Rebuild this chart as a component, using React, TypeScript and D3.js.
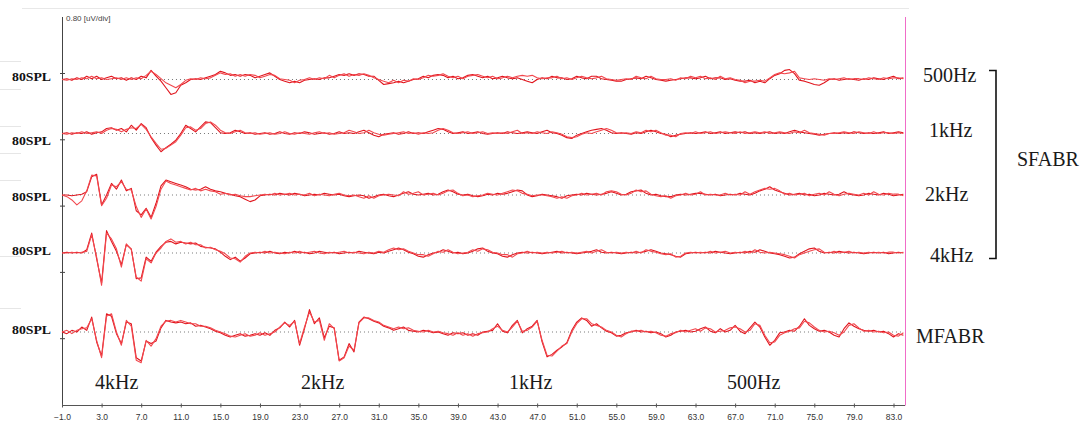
import React, { useEffect, useRef } from 'react'
import * as d3 from 'd3'

// sweep: first sample at -1.0 ms, one sample every 0.5 ms (171 samples, up to 84 ms)
const sweepStart = -1
const sweepStep = 0.5
const uvPerDiv = 0.8

const xTickValues = [-1, 3, 7, 11, 15, 19, 23, 27, 31, 35, 39, 43, 47, 51, 55, 59, 63, 67, 71, 75, 79, 83]

const rightLabels = ['500Hz', '1kHz', '2kHz', '4kHz', 'MFABR']
const bottomLabels = ['4kHz', '2kHz', '1kHz', '500Hz']
const levelLabel = '80SPL'
const groupLabel = 'SFABR'
const scaleLabel = '0.80 [uV/div]'

// amplitudes in uV, two repeated runs per stimulus
const sf500A = [
  0, .01, -.01, .02, 0, .04, .01, .04, 0, .02,
  .04, .01, .02, -.01, .02, 0, .04, .02, .11, .04,
  -.02, -.1, -.18, -.16, -.07, -.04, 0, .01, 0, .02,
  .04, .06, .1, .08, .05, .06, .04, .06, .05, .02,
  .04, .06, .08, .04, 0, -.02, -.04, -.02, -.04, -.01,
  0, .01, 0, .02, .02, .04, .06, .05, .07, .05,
  .07, .06, .04, .04, -.01, -.06, -.05, -.04, -.02, -.04,
  -.02, 0, .01, .04, .02, .05, .06, .05, .02, .04,
  .01, .02, .05, .06, .04, .02, .04, .01, .02, .04,
  .02, .01, .02, 0, -.02, -.04, 0, .02, .01, .04,
  .02, .02, 0, .01, .04, .02, .01, .04, .04, .01,
  0, -.01, -.02, -.02, 0, .01, .02, .01, .04, .02,
  0, -.01, -.02, -.01, 0, .01, .02, .02, .01, .02,
  .04, .01, .02, .02, 0, .01, -.01, -.02, -.02, -.01,
  -.04, -.02, -.04, .01, .05, .07, .11, .12, .07, -.01,
  -.02, -.04, -.06, -.07, -.04, 0, .01, -.01, 0, .01,
  0, -.01, .01, 0, .02, .01, 0, .02, .04, .01,
  .02
]
const sf500B = [
  0, -.01, .01, 0, .02, .01, .04, .01, .02, 0,
  .01, .02, 0, .02, 0, .02, .01, .05, .1, .06,
  .01, -.04, -.07, -.1, -.06, -.01, .01, 0, .02, .01,
  .02, .05, .08, .06, .07, .04, .06, .04, .06, .05,
  .02, .04, .06, .05, .01, 0, -.01, -.04, -.01, 0,
  .02, 0, .02, .01, .05, .02, .05, .07, .04, .06,
  .05, .07, .05, .02, 0, -.02, -.04, -.01, -.04, -.01,
  -.02, .01, 0, .02, .05, .04, .05, .07, .04, .02,
  .04, .01, .04, .05, .06, .04, .02, .04, .01, .02,
  .04, .02, .04, .05, .04, .05, .02, .01, .02, .02,
  .04, .01, .02, 0, .02, .04, .02, .01, .02, .04,
  .01, 0, -.01, 0, .01, 0, .04, .02, .01, .04,
  .01, 0, 0, .01, -.01, .02, .01, .04, .02, .04,
  .01, .02, 0, .04, .01, .02, 0, -.01, -.04, -.02,
  -.02, -.01, -.02, .02, .06, .08, .07, .08, .1, .02,
  .01, 0, .01, 0, -.01, .01, 0, .01, .02, 0,
  .01, .01, 0, .02, .01, 0, .02, .01, .02, .02,
  .01
]
const sf1kA = [
  0, .01, -.01, .01, 0, .02, -.01, .01, .02, .06,
  .07, .04, .06, .02, .1, .04, .12, .07, -.05, -.14,
  -.22, -.17, -.13, -.08, 0, .1, .06, .02, .08, .14,
  .13, .07, .01, 0, .01, .04, .02, 0, .01, -.01,
  0, .01, -.01, 0, .02, 0, -.01, .01, 0, .02,
  .01, -.01, 0, .01, -.01, 0, .02, 0, .01, 0,
  .02, .04, .01, -.02, -.04, -.01, 0, .01, -.01, 0,
  .02, 0, .01, 0, .02, .04, .06, .05, .02, 0,
  .01, .02, 0, .01, .02, 0, -.01, 0, .01, 0,
  .02, .01, 0, .01, .02, .01, 0, .02, .04, .01,
  0, -.02, -.05, -.06, -.02, 0, .02, .04, .05, .06,
  .04, .01, 0, .01, 0, -.01, .01, 0, .02, .04,
  .02, 0, -.01, -.04, -.02, -.01, 0, .01, 0, .01,
  .02, 0, .01, .02, 0, .01, .02, .01, .02, 0,
  .01, 0, .01, .02, 0, .01, 0, .02, .04, .02,
  .01, 0, -.01, -.02, -.01, 0, .01, 0, .01, 0,
  .02, .01, 0, .01, 0, .01, .02, 0, .01, .02,
  .01
]
const sf1kB = [
  0, -.01, .01, 0, .02, 0, .01, .02, 0, .04,
  .06, .05, .02, .05, .07, .06, .11, .05, -.04, -.12,
  -.19, -.18, -.14, -.1, -.02, .07, .08, .04, .06, .12,
  .14, .1, .04, .01, 0, .02, .04, .01, 0, .01,
  -.01, 0, .01, -.01, 0, .02, 0, -.01, .01, 0,
  -.01, .01, .02, 0, .01, -.01, 0, .01, .04, .02,
  0, .01, .04, .01, -.01, -.02, -.01, 0, .01, .02,
  0, .01, -.01, .01, 0, .01, .04, .06, .04, .01,
  0, .01, .02, 0, .01, .02, 0, .01, 0, .01,
  0, .02, .04, 0, .01, 0, .02, .01, 0, .02,
  .01, -.01, -.04, -.05, -.04, -.01, .01, 0, .02, .04,
  .06, .04, .01, 0, .01, 0, .02, .01, .04, .02,
  .04, .01, -.02, -.02, -.04, 0, .01, 0, .02, 0,
  .01, .02, 0, .01, .02, .01, 0, .02, 0, .01,
  .02, .01, .02, 0, .01, .02, .01, 0, .02, .01,
  .04, .01, 0, -.01, -.02, 0, 0, .01, .02, .01,
  0, .02, .01, 0, .02, 0, .01, .01, 0, .01,
  0
]
const sf2kA = [
  0, 0, -.01, 0, .01, .04, .22, .25, -.12, 0,
  .14, .07, .18, .05, .08, -.19, -.24, -.16, -.27, -.1,
  .11, .18, .16, .14, .12, .1, .07, .06, .07, .1,
  .07, .05, .04, .02, .01, -.01, -.02, -.05, -.08, -.06,
  -.01, 0, .01, 0, .02, .01, 0, .02, .01, -.01,
  0, .01, 0, .02, .01, 0, .01, -.01, -.02, -.01,
  0, -.01, -.04, -.02, 0, .01, -.01, -.02, 0, .02,
  .04, .01, 0, .01, .02, 0, .01, .04, .06, .04,
  .01, 0, .01, -.01, -.02, -.01, .01, 0, .02, .01,
  .02, .04, .06, .05, 0, -.02, -.01, .01, 0, -.01,
  -.02, -.04, -.01, 0, .01, 0, .02, .01, 0, .01,
  .02, .04, .02, 0, .01, .04, .05, .06, .02, 0,
  .01, -.01, -.02, -.02, 0, .01, 0, .01, .02, .02,
  .01, 0, .01, -.01, 0, .01, 0, .02, .01, 0,
  .02, .05, .07, .1, .06, .04, .02, 0, .01, .02,
  0, .01, -.01, 0, .02, .01, 0, .01, .04, .01,
  0, -.01, 0, .02, .01, 0, .02, .01, -.01, 0,
  .01
]
const sf2kB = [
  0, -.02, -.06, -.12, -.07, .05, .24, .23, -.13, -.04,
  .12, .1, .16, .07, .06, -.14, -.27, -.17, -.29, -.14,
  .07, .17, .14, .12, .1, .08, .06, .08, .05, .07,
  .05, .04, .01, .02, 0, .01, -.01, -.02, -.02, -.01,
  0, .01, 0, .02, 0, .01, .02, 0, .01, 0,
  .02, -.01, .01, 0, -.01, .01, .02, 0, -.01, 0,
  -.02, -.04, -.01, -.04, -.01, 0, .01, 0, -.01, .04,
  .01, .02, .04, 0, .01, .02, 0, .02, .05, .06,
  .02, -.01, 0, -.02, -.01, 0, .02, .01, 0, .02,
  .04, .06, .05, .02, .01, -.01, 0, 0, -.01, -.02,
  -.04, -.02, -.04, -.01, 0, .02, 0, .01, .02, 0,
  .04, .05, .04, .01, 0, .02, .06, .04, .05, .01,
  -.01, -.02, -.01, -.04, -.01, 0, .02, 0, .01, .04,
  0, .01, 0, 0, .02, 0, .01, 0, .04, .01,
  .04, .06, .08, .07, .08, .05, .01, .02, 0, .01,
  .02, -.01, .01, .02, 0, .04, .01, -.01, .01, .02,
  .01, 0, .02, 0, .04, .01, 0, .02, .01, .01,
  -.01
]
const sf4kA = [
  0, .01, 0, .01, 0, .04, .24, -.07, -.36, .27,
  .14, .02, -.14, .1, .05, -.31, -.3, -.05, -.1, .01,
  .08, .13, .14, .11, .13, .12, .11, .12, .08, .07,
  .06, .05, .01, -.04, -.08, -.05, -.1, -.06, -.01, 0,
  .01, 0, .02, 0, -.01, .01, 0, .02, 0, .01,
  -.01, 0, .02, .01, 0, .01, -.01, 0, .01, 0,
  .02, .01, 0, -.01, .01, 0, .02, .04, .06, .04,
  .01, -.01, -.04, -.05, -.02, 0, .01, .04, .02, 0,
  .01, -.01, 0, .02, .05, .06, .02, 0, -.01, -.04,
  -.05, -.02, 0, .01, 0, .01, 0, -.01, 0, .01,
  .02, 0, .01, 0, -.01, 0, .01, .02, .04, .01,
  0, .01, 0, -.01, 0, .01, 0, .01, .02, .04,
  .02, 0, -.01, -.02, -.04, -.05, -.01, 0, .01, 0,
  .01, 0, .02, .01, 0, -.01, 0, .01, 0, .02,
  .01, .04, .02, 0, -.01, -.02, -.04, -.06, -.05, -.01,
  .02, .05, .06, .02, 0, .01, 0, .02, .01, 0,
  .01, 0, -.01, 0, .01, 0, .01, -.01, 0, .01,
  0
]
const sf4kB = [
  0, 0, .01, 0, .01, .02, .22, -.05, -.39, .24,
  .17, .05, -.17, .11, .04, -.29, -.34, -.07, -.12, 0,
  .06, .14, .17, .13, .14, .11, .13, .1, .1, .06,
  .07, .04, .02, -.01, -.06, -.07, -.11, -.04, 0, .01,
  0, .02, 0, .01, 0, -.01, .01, 0, .02, 0,
  .01, .02, 0, -.01, .01, 0, .01, .02, 0, .01,
  0, -.01, .01, 0, .02, .01, .04, .06, .04, .05,
  .02, 0, -.02, -.02, -.04, -.01, .02, .01, .04, .01,
  -.01, 0, .01, .04, .02, .05, .04, .01, 0, -.02,
  -.02, -.05, -.01, 0, .02, 0, .01, 0, .01, 0,
  .01, .02, 0, .01, 0, .01, .02, 0, .02, .04,
  .01, 0, .01, 0, .01, 0, .02, 0, .04, .02,
  .01, -.01, -.02, -.01, -.05, -.04, 0, .01, 0, .01,
  0, .02, 0, .01, .02, 0, .01, 0, .02, 0,
  .04, .01, 0, .01, 0, -.01, -.02, -.04, -.06, -.02,
  0, .02, .04, .05, .01, 0, .02, 0, .01, .02,
  0, .01, 0, .01, 0, .01, 0, .01, .01, 0,
  .01
]
const mfA = [
  0, -.02, .02, 0, .06, .02, .18, -.12, -.29, .22,
  .19, -.02, -.14, .12, .1, -.31, -.35, -.11, -.14, -.11,
  .05, .14, .12, .11, .12, .1, .11, .07, .08, .06,
  .04, .01, -.01, -.04, -.06, -.04, -.02, -.05, -.04, -.02,
  -.04, -.01, -.04, .02, .05, .12, .06, .14, -.16, .04,
  .27, .1, .17, -.07, .07, .05, -.34, -.3, -.14, -.24,
  .12, .18, .16, .13, .11, .07, .05, .02, .04, .06,
  .02, .01, 0, .02, .01, -.01, 0, -.02, -.04, -.01,
  -.02, -.01, -.04, -.02, -.04, 0, .01, .02, .1, .01,
  -.01, .08, .14, -.01, .04, .07, .14, -.12, -.3, -.27,
  -.22, -.18, -.13, .02, .12, .17, .14, .07, .1, .05,
  .01, -.01, -.05, -.04, -.01, 0, .02, 0, .01, -.01,
  0, -.02, -.06, -.04, 0, .01, .02, 0, .01, .04,
  .06, .01, -.01, .04, 0, .02, .08, .01, -.02, .05,
  .12, .06, -.06, -.16, -.1, -.01, 0, .02, .01, .07,
  .16, .08, .04, .01, .02, 0, -.04, -.06, .04, .11,
  .07, .04, .02, .01, .02, 0, .01, -.02, -.06, -.02,
  -.04
]
const mfB = [
  0, .02, -.02, .02, .04, .05, .16, -.1, -.31, .19,
  .22, 0, -.16, .14, .07, -.34, -.37, -.1, -.17, -.08,
  .07, .13, .14, .12, .14, .12, .1, .1, .07, .07,
  .05, .02, 0, -.02, -.05, -.06, -.04, -.02, -.05, -.04,
  -.01, -.04, -.02, 0, .06, .11, .08, .13, -.14, .06,
  .24, .12, .14, -.1, .1, .04, -.35, -.31, -.17, -.22,
  .11, .17, .17, .14, .12, .08, .06, .04, .06, .04,
  .05, .02, .01, 0, .02, 0, .01, -.01, -.02, -.04,
  -.01, -.04, -.02, -.05, -.02, -.01, 0, .04, .07, .02,
  0, .06, .13, .01, .02, .06, .13, -.1, -.28, -.29,
  -.23, -.17, -.14, 0, .1, .16, .16, .1, .08, .06,
  .02, 0, -.04, -.06, -.02, .01, .01, .02, 0, .01,
  -.01, -.04, -.05, -.02, -.01, .02, 0, .02, .04, .01,
  .05, .04, 0, .01, .02, .05, .06, .04, 0, .02,
  .1, .08, -.04, -.13, -.12, -.04, -.01, .01, .04, .05,
  .13, .11, .06, .02, 0, .01, -.01, -.04, 0, .08,
  .1, .05, .01, .02, 0, .01, -.01, 0, -.04, -.05,
  -.01
]

const channels = [
  [sf500A, sf500B],
  [sf1kA, sf1kB],
  [sf2kA, sf2kB],
  [sf4kA, sf4kB],
  [mfA, mfB],
]

// page layout
const W = 1090
const H = 423
const plotLeft = 62
const plotRight = 905
const plotTop = 17
const plotBottom = 405.5
const divPx = 66.3
const firstDivY = 73
const baselineY = [79.5, 133.5, 195, 253, 332]
const levelLabelY = [81, 145, 201, 255, 334]
const rightLabelPos = [[923, 82], [929, 137], [925, 201], [930, 262], [916, 343]]
const bottomLabelX = [95, 301, 509, 727]
const sideRules = [61, 89, 126, 153, 180, 256, 308]

export default function App() {
  const ref = useRef<SVGSVGElement>(null)

  useEffect(() => {
    const svg = d3.select(ref.current)
    svg.selectAll('*').remove()

    const x = d3.scaleLinear().domain([-1, 83]).range([plotLeft, 893.5])
    const amp = d3.scaleLinear().domain([0, uvPerDiv]).range([0, divPx])

    svg.append('rect').attr('width', W).attr('height', H).attr('fill', '#fff')

    // faint frame bits from the figure
    svg.append('line')
      .attr('x1', 22).attr('x2', 909).attr('y1', 8.5).attr('y2', 8.5)
      .attr('stroke', '#e8e8e8')
    svg.append('g').selectAll('line')
      .data(sideRules).enter().append('line')
        .attr('x1', 0).attr('x2', 21)
        .attr('y1', d => d + 0.5).attr('y2', d => d + 0.5)
        .attr('stroke', '#e6e6e6')

    // left axis with one tick per division
    svg.append('line')
      .attr('x1', plotLeft + 0.5).attr('x2', plotLeft + 0.5)
      .attr('y1', plotTop).attr('y2', plotBottom)
      .attr('stroke', '#444')
    svg.append('g').selectAll('line')
      .data(d3.range(5)).enter().append('line')
        .attr('x1', plotLeft - 2).attr('x2', plotLeft + 3)
        .attr('y1', d => firstDivY + amp(d * uvPerDiv) + 0.5)
        .attr('y2', d => firstDivY + amp(d * uvPerDiv) + 0.5)
        .attr('stroke', '#444')

    svg.append('text')
      .attr('x', plotLeft + 4).attr('y', 21)
      .attr('font-family', 'Liberation Sans, Arial, sans-serif')
      .attr('font-size', 8).attr('fill', '#444')
      .text(scaleLabel)

    // bottom axis
    const axis = svg.append('g')
      .attr('transform', `translate(0,${plotBottom})`)
      .call(d3.axisBottom(x).tickValues(xTickValues).tickFormat(d3.format('.1f')).tickSize(2))
    axis.select('.domain').remove()
    axis.append('line')
      .attr('x1', plotLeft).attr('x2', plotRight).attr('y1', 0).attr('y2', 0)
      .attr('stroke', '#555')
    axis.selectAll('.tick line').attr('y1', -2).attr('y2', 2).attr('stroke', '#555')
    axis.selectAll('.tick text')
      .attr('y', 8).attr('fill', '#333')
      .attr('font-family', 'Liberation Sans, Arial, sans-serif')
      .attr('font-size', 8.5)

    // right marker line
    svg.append('line')
      .attr('x1', plotRight + 0.5).attr('x2', plotRight + 0.5)
      .attr('y1', plotTop).attr('y2', plotBottom)
      .attr('stroke', '#f06cc8')

    // traces
    const colors = ['#e0151d', '#f2484e']
    channels.forEach((runs, k) => {
      const g = svg.append('g')
      g.append('line')
        .attr('x1', x(-0.8)).attr('x2', x(84))
        .attr('y1', baselineY[k]).attr('y2', baselineY[k])
        .attr('stroke', '#777').attr('stroke-dasharray', '1 3')

      const line = d3.line<number>()
        .x((d, i) => x(sweepStart + i * sweepStep))
        .y(d => baselineY[k] - amp(d))

      runs.forEach((run, j) => {
        g.append('path')
          .attr('d', line(run))
          .attr('fill', 'none')
          .attr('stroke', colors[j])
          .attr('stroke-width', 1.1)
          .attr('stroke-linejoin', 'round')
      })

      svg.append('text')
        .attr('x', 12).attr('y', levelLabelY[k])
        .attr('font-family', 'Liberation Serif, Times New Roman, serif')
        .attr('font-weight', 'bold').attr('font-size', 12.5)
        .attr('textLength', 39).attr('lengthAdjust', 'spacingAndGlyphs')
        .attr('fill', '#111')
        .text(levelLabel)

      svg.append('text')
        .attr('x', rightLabelPos[k][0]).attr('y', rightLabelPos[k][1])
        .attr('font-family', 'Liberation Serif, Times New Roman, serif')
        .attr('font-size', 20).attr('fill', '#1a1a1a')
        .text(rightLabels[k])
    })

    // bracket around the single-frequency runs
    svg.append('path')
      .attr('d', 'M989,70.5 H996 V258.5 H989')
      .attr('fill', 'none').attr('stroke', '#111').attr('stroke-width', 1.6)
    svg.append('text')
      .attr('x', 1017).attr('y', 166)
      .attr('font-family', 'Liberation Serif, Times New Roman, serif')
      .attr('font-size', 20).attr('fill', '#1a1a1a')
      .text(groupLabel)

    svg.append('g').selectAll('text')
      .data(bottomLabels).enter().append('text')
        .attr('x', (d, i) => bottomLabelX[i]).attr('y', 389)
        .attr('font-family', 'Liberation Serif, Times New Roman, serif')
        .attr('font-size', 20).attr('fill', '#1a1a1a')
        .text(d => d)
  }, [])

  return (
    <svg ref={ref} width={W} height={H}
      style={{ position: 'absolute', left: 0, top: 0, display: 'block' }} />
  )
}
